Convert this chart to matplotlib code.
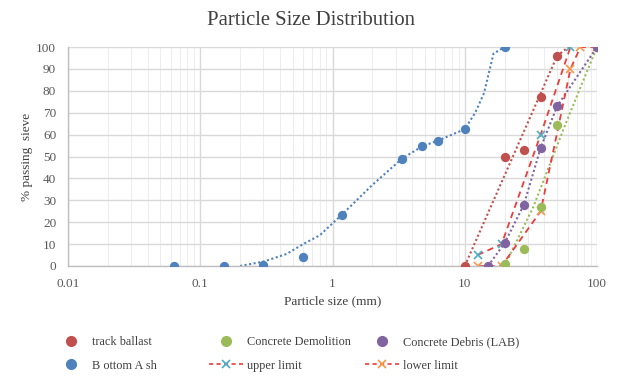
import matplotlib
matplotlib.use("Agg")
import matplotlib.pyplot as plt
from matplotlib.lines import Line2D
from matplotlib.ticker import LogLocator, FixedLocator, NullFormatter

plt.rcParams['font.family'] = ['Liberation Serif', 'DejaVu Serif']

# ---- data ----
tb_x = [10, 20, 28, 37.5, 50, 100]
tb_y = [0, 50, 53, 77, 96, 100]
tb_line_x = [10, 50, 61]
tb_line_y = [0, 96, 100]

cd_x = [20, 28, 37.5, 50, 100]
cd_y = [1, 7.8, 27, 64.5, 100]
cd_line_x = [20, 33, 57.5, 100]
cd_line_y = [0, 27, 64.5, 100]

cdl_x = [15, 20, 28, 37.5, 50, 100]
cdl_y = [0, 10.4, 28, 54, 73, 100]

ba_x = [0.063, 0.15, 0.3, 0.6, 1.18, 3.35, 4.75, 6.3, 10, 20]
ba_y = [0, 0, 0.5, 4.2, 23.5, 49, 54.6, 57.3, 62.5, 100]
ba_line_x = [0.2, 0.3, 0.45, 0.6, 0.8, 1.18, 2, 3.35, 4.75, 6.3, 10, 12, 14, 16.5, 20]
ba_line_y = [0, 2, 5.5, 10, 14, 23.5, 37, 49, 54.6, 57.3, 62.5, 70, 79, 97, 100]

up_x = [12.5, 19, 37.5, 63]
up_y = [5, 10, 60, 100]
lo_x = [12.5, 19, 37.5, 63, 75, 100]
lo_y = [0, 0, 25, 90, 100, 100]

title = "Particle Size Distribution"
xlabel = "Particle size (mm)"
ylabel = "% passing  sieve"
labels = ["track ballast", "Concrete Demolition", "Concrete Debris (LAB)",
          "B ottom A sh", "upper limit", "lower limit"]

# ---- styles ----
c_red = "#C0504D"
c_green = "#9BBB59"
c_purple = "#8064A2"
c_blue = "#4F81BD"
c_dash = "#EE3B3B"
c_upx = "#4BACC6"
c_lox = "#F79646"

fig = plt.figure(figsize=(6.22, 3.76), dpi=100)
ax = fig.add_axes([68/622, 1-266/376, (597-68)/622, (266-47)/376])

ax.set_xscale('log')
ax.set_xlim(0.01, 100)
ax.set_ylim(0, 100)

# lines
ax.plot(tb_line_x, tb_line_y, ls=(0, (1, 1.2)), color=c_red, lw=1.5, zorder=2)
ax.plot(cd_line_x, cd_line_y, ls=(0, (1, 1.2)), color=c_green, lw=1.5, zorder=2)
ax.plot(cdl_x, cdl_y, ls=(0, (1, 1.2)), color=c_purple, lw=1.5, zorder=2)
ax.plot(ba_line_x, ba_line_y, ls=(0, (1, 1.2)), color=c_blue, lw=1.5, zorder=2)
ax.plot(up_x, up_y, ls=(0, (3.5, 2.5)), color=c_dash, lw=1.3, marker='x',
        mec=c_upx, ms=5.5, mew=1.2, zorder=2.5)
ax.plot(lo_x, lo_y, ls=(0, (3.5, 2.5)), color=c_dash, lw=1.3, marker='x',
        mec=c_lox, ms=5.5, mew=1.2, zorder=2.5)

# points
ms = 45
ax.scatter(tb_x, tb_y, s=ms, color=c_red, zorder=3, linewidths=0)
ax.scatter(cd_x, cd_y, s=ms, color=c_green, zorder=3.1, linewidths=0)
ax.scatter(cdl_x, cdl_y, s=ms, color=c_purple, zorder=3.2, linewidths=0)
ax.scatter(ba_x, ba_y, s=ms, color=c_blue, zorder=3.3, linewidths=0)

# grid & axes
ax.yaxis.set_major_locator(FixedLocator(range(0, 101, 10)))
ax.xaxis.set_minor_locator(LogLocator(base=10, subs=range(2, 10), numticks=10))
ax.xaxis.set_minor_formatter(NullFormatter())
ax.set_xticks([0.01, 0.1, 1, 10, 100])
ax.set_xticklabels(["0.01", "0.1", "1", "10", "100"])
ax.grid(which='major', color='#D9D9D9', lw=1.0, zorder=0)
ax.grid(which='minor', axis='x', color='#EDEDED', lw=0.8, zorder=0)
ax.set_axisbelow(True)
for s in ['top', 'right']:
    ax.spines[s].set_visible(False)
for s in ['left', 'bottom']:
    ax.spines[s].set_color('#BFBFBF')
    ax.spines[s].set_linewidth(1.0)
ax.tick_params(which='both', length=0, colors='#595959', labelsize=9.5)
ax.tick_params(axis='x', pad=8.5)
ax.tick_params(axis='y', pad=8.5)

ax.set_xlabel(xlabel, fontsize=9.5, color='#404040', labelpad=4)
ax.set_ylabel(ylabel, fontsize=9.5, color='#404040', labelpad=2)
fig.text(0.5, 0.945, title, ha='center', va='center', fontsize=14.9, color='#404040')

# legend: three equal-width columns, each its own legend
def pt(c):
    return Line2D([], [], ls='none', marker='o', color=c, ms=7, mec=c)
h_tb = pt(c_red); h_cd = pt(c_green); h_cdl = pt(c_purple); h_ba = pt(c_blue)
h_up = Line2D([], [], ls=(0, (2.5, 2)), color=c_dash, lw=1.2, marker='x', mec=c_upx, ms=5.5, mew=1.2)
h_lo = Line2D([], [], ls=(0, (2.5, 2)), color=c_dash, lw=1.2, marker='x', mec=c_lox, ms=5.5, mew=1.2)
cols = [([h_tb, h_ba], [labels[0], labels[3]]),
        ([h_cd, h_up], [labels[1], labels[4]]),
        ([h_cdl, h_lo], [labels[2], labels[5]])]
starts = [54, 209, 365]
for (hh, ll), x0 in zip(cols, starts):
    leg = fig.legend(hh, ll, loc='upper left', bbox_to_anchor=(x0/622, 1-336/376),
                     frameon=False, fontsize=8.8, handlelength=2.75, handletextpad=0.35,
                     labelspacing=0.95, borderpad=0, borderaxespad=0, labelcolor='#404040')

fig.savefig("out.png", dpi=100)
